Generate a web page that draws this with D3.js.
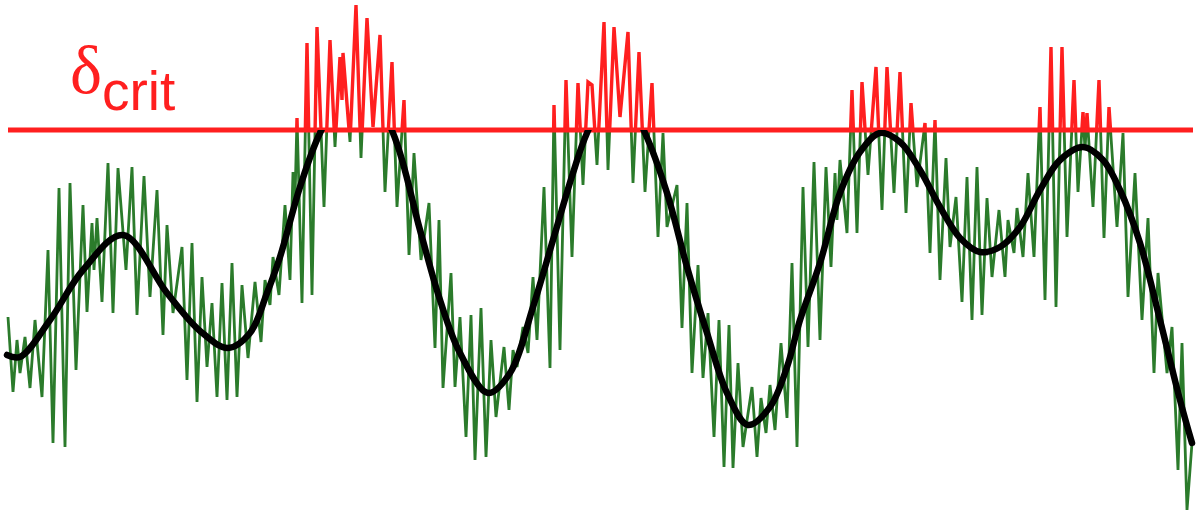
<!DOCTYPE html>
<html>
<head>
<meta charset="utf-8">
<script src="https://cdnjs.cloudflare.com/ajax/libs/d3/7.8.5/d3.min.js"></script>
<style>
  html, body { margin: 0; padding: 0; background: #fff; }
  svg { display: block; }
</style>
</head>
<body>
<div id="chart"></div>
<script>
// threshold level (delta_crit) in the same units as the fields below
const deltaCrit = 370;

// noisy field: sample positions and values (peaks / troughs)
const noisyT = [
  8, 13, 17, 20, 25, 30, 35, 42, 48, 53, 59, 65, 70, 76, 83, 87, 92, 94, 97, 102,
  108, 113, 118, 126, 132, 137, 144, 150, 157, 163, 167, 173, 182, 187, 192, 197,
  202, 207, 212, 217, 222, 227, 232, 237, 242, 248, 255, 261, 265, 270, 273, 279,
  285, 290, 293, 295, 297, 302, 307, 312, 317, 324, 330, 335, 340, 342, 343, 350,
  356, 361, 367, 373, 380, 385, 392, 397, 404, 409, 414, 421, 429, 435, 439, 443,
  451, 455, 460, 466, 471, 475, 481, 486, 491, 496, 504, 509, 513, 517, 523, 528,
  533, 537, 544, 550, 554, 560, 566, 572, 578, 583, 588, 592, 597, 604, 608, 614,
  620, 628, 633, 639, 645, 652, 658, 663, 667, 677, 682, 687, 692, 698, 703, 708,
  714, 719, 724, 729, 733, 738, 743, 752, 757, 761, 766, 770, 775, 781, 787, 792,
  797, 803, 808, 814, 820, 826, 831, 835, 837, 840, 847, 852, 857, 862, 868, 876,
  882, 887, 894, 900, 906, 911, 917, 925, 930, 935, 940, 946, 950, 956, 962, 967,
  972, 977, 982, 987, 992, 999, 1005, 1008, 1014, 1017, 1023, 1028, 1034, 1040, 1045, 1051,
  1056, 1062, 1067, 1074, 1078, 1083, 1085, 1087, 1093, 1099, 1104, 1109, 1117, 1123, 1128, 1135,
  1142, 1148, 1154, 1158, 1167, 1172, 1178, 1182, 1187, 1192
];
const noisyValues = [
  183, 108, 160, 127, 163, 112, 180, 103, 250, 57, 312, 53, 317, 130, 295, 188, 277, 230, 282, 198,
  337, 187, 332, 230, 333, 185, 324, 203, 310, 165, 275, 187, 253, 120, 257, 98,
  223, 133, 197, 103, 217, 100, 237, 103, 215, 142, 218, 158, 220, 195, 243, 205,
  295, 220, 328, 300, 382, 197, 457, 205, 473, 293, 460, 353, 443, 400, 447, 358,
  495, 342, 482, 373, 465, 308, 438, 293, 400, 245, 347, 240, 297, 152, 280, 112,
  227, 113, 183, 63, 185, 40, 192, 43, 160, 83, 153, 90, 150, 133, 173, 147,
  223, 160, 313, 132, 395, 150, 420, 243, 417, 315, 418, 415, 335, 478, 330, 473,
  383, 468, 317, 448, 308, 417, 263, 367, 273, 315, 172, 297, 127, 235, 122, 187,
  63, 180, 33, 175, 32, 137, 53, 113, 43, 102, 67, 115, 70, 157, 82, 237,
  53, 313, 153, 338, 160, 333, 233, 327, 280, 340, 267, 410, 267, 418, 325, 433,
  290, 433, 307, 428, 287, 397, 313, 377, 247, 380, 220, 342, 253, 303, 198, 323,
  180, 333, 185, 302, 223, 290, 223, 280, 247, 292, 243, 327, 243, 393, 200, 453,
  193, 453, 263, 420, 308, 388, 350, 387, 293, 420, 262, 393, 273, 367, 203, 327,
  180, 282, 127, 227, 127, 173, 30, 157, -10, 57
];

// smooth (filtered) field
const smoothT = [
  7, 20, 50, 83, 123, 167, 200, 228, 250, 267, 280, 300, 320, 357, 393, 420, 440, 460, 488, 510,
  533, 553, 573, 587, 616, 645, 667, 687, 707, 727, 748, 770, 787, 800, 820, 840, 860, 880, 900, 920,
  940, 960, 980, 1000, 1020, 1040, 1060, 1083, 1103, 1120, 1140, 1160, 1180, 1192
];
const smoothValues = [
  145, 143, 180, 230, 265, 207, 169, 152, 167, 207, 243, 313, 367, 430, 367, 270, 200, 147, 107, 127,
  193, 260, 327, 367, 420, 367, 307, 233, 167, 107, 75, 93, 133, 180, 237, 307, 348, 367, 358, 330,
  293, 262, 248, 253, 273, 310, 340, 353, 340, 310, 257, 180, 100, 57
];

const width = 1200;
const height = 517;

const x = d3.scaleLinear().domain([0, 1200]).range([0, width]);
const y = d3.scaleLinear().domain([0, 500]).range([500, 0]);

const svg = d3.select('#chart').append('svg')
  .attr('width', width)
  .attr('height', height);

const yCrit = y(deltaCrit);

/* clip regions: below and above the threshold */
const defs = svg.append('defs');
defs.append('clipPath').attr('id', 'below')
  .append('rect')
  .attr('x', 0).attr('y', yCrit)
  .attr('width', width).attr('height', height - yCrit);
defs.append('clipPath').attr('id', 'above')
  .append('rect')
  .attr('x', 0).attr('y', 0)
  .attr('width', width).attr('height', yCrit);

const noisy = noisyT.map((t, i) => ({ t, v: noisyValues[i] }));
const smooth = smoothT.map((t, i) => ({ t, v: smoothValues[i] }));

const noisyLine = d3.line()
  .x(d => x(d.t))
  .y(d => y(d.v));

const smoothLine = d3.line()
  .x(d => x(d.t))
  .y(d => y(d.v))
  .curve(d3.curveCatmullRom.alpha(0.5));

/* noisy field, green below threshold */
svg.append('path')
  .datum(noisy)
  .attr('clip-path', 'url(#below)')
  .attr('d', noisyLine)
  .style('fill', 'none')
  .style('stroke', '#2b7b2b')
  .style('stroke-width', 2.8);

/* same field, red above threshold */
svg.append('path')
  .datum(noisy)
  .attr('clip-path', 'url(#above)')
  .attr('d', noisyLine)
  .style('fill', 'none')
  .style('stroke', '#ff1f1f')
  .style('stroke-width', 3.4);

/* threshold line */
svg.append('line')
  .attr('x1', x(8))
  .attr('x2', x(1193))
  .attr('y1', yCrit)
  .attr('y2', yCrit)
  .style('stroke', '#ff1f1f')
  .style('stroke-width', 5);

/* smoothed field */
svg.append('path')
  .datum(smooth)
  .attr('clip-path', 'url(#below)')
  .attr('d', smoothLine)
  .style('fill', 'none')
  .style('stroke', '#000')
  .style('stroke-width', 6.5)
  .style('stroke-linecap', 'round');

/* label */
const label = svg.append('text')
  .attr('x', 70)
  .attr('y', 93)
  .style('fill', '#ff1f1f');
label.append('tspan')
  .style('font-family', '"Liberation Serif", "DejaVu Serif", serif')
  .style('font-size', '68px')
  .text('δ');
label.append('tspan')
  .attr('dy', 17)
  .style('font-family', '"Liberation Sans", Arial, sans-serif')
  .style('font-size', '55px')
  .text('crit');
</script>
</body>
</html>
